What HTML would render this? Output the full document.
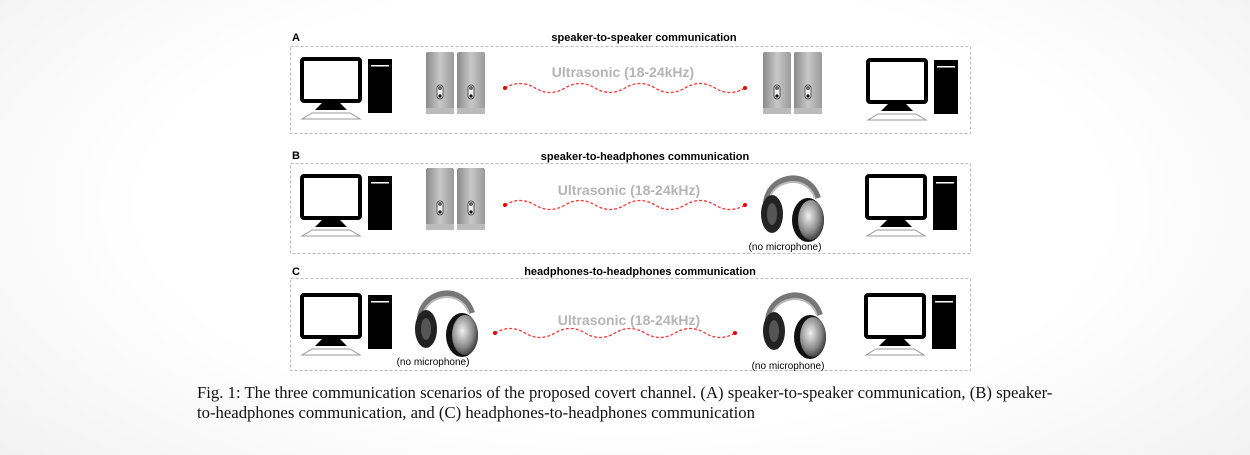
<!DOCTYPE html>
<html><head><meta charset="utf-8"><style>
html,body{margin:0;padding:0}
body{width:1250px;height:455px;overflow:hidden;background:radial-gradient(ellipse 70% 90% at 50% 45%,#ffffff 55%,#f0f0f0 100%);position:relative}
svg{position:absolute;left:0;top:0}
.cap{position:absolute;left:197px;top:383px;font-family:"Liberation Serif",serif;font-size:16.7px;color:#111;line-height:20px;white-space:nowrap}
</style></head><body>
<svg width="1250" height="455" xmlns="http://www.w3.org/2000/svg">
<defs>
<linearGradient id="spk" x1="0" x2="1"><stop offset="0" stop-color="#8a8a8a"/><stop offset="0.5" stop-color="#c8c8c8"/><stop offset="1" stop-color="#9a9a9a"/></linearGradient>
<radialGradient id="cup" cx="0.4" cy="0.4" r="0.7"><stop offset="0" stop-color="#f0f0f0"/><stop offset="0.6" stop-color="#888"/><stop offset="1" stop-color="#222"/></radialGradient>
<g id="pc">
<rect x="2" y="2" width="58" height="42" fill="#fff" stroke="#000" stroke-width="4" rx="2"/>
<polygon points="22,46 40,46 47,53 15,53" fill="#000"/>
<polygon points="12,56 50,56 60,62 2,62" fill="#fff" stroke="#999" stroke-width="1"/>
<rect x="68" y="2" width="24" height="54" fill="#000"/>
<rect x="71" y="8" width="18" height="1.5" fill="#fff"/>
</g>
<g id="spk1">
<rect x="0" y="0" width="28" height="62" rx="2" fill="url(#spk)"/>
<rect x="11" y="33" width="6" height="14" rx="3" fill="#eee" stroke="#555"/>
<circle cx="14" cy="36" r="2" fill="#666"/>
<circle cx="14" cy="44" r="1.6" fill="#111"/>
<rect x="0" y="56" width="28" height="6" fill="#bbb"/>
</g>
<g id="spk2"><use href="#spk1"/><use href="#spk1" x="31"/></g>
<g id="hp">
<path d="M8,40 C6,8 50,-2 60,30" fill="none" stroke="#777" stroke-width="6"/>
<path d="M10,38 C10,12 48,4 57,30" fill="none" stroke="#bbb" stroke-width="2"/>
<ellipse cx="14" cy="46" rx="11" ry="19" fill="#222"/>
<ellipse cx="14" cy="46" rx="5" ry="11" fill="#555"/>
<ellipse cx="50" cy="52" rx="16" ry="22" fill="#111"/>
<ellipse cx="53" cy="52" rx="13" ry="20" fill="url(#cup)"/>
</g>
<g id="wave">
<path d="M0,0 q15,-9 30,0 t30,0 t30,0 t30,0 t30,0 t30,0 t30,0 t30,0" fill="none" stroke="#f33" stroke-width="1.3" stroke-dasharray="3,2"/>
<circle cx="0" cy="0" r="2" fill="#e00"/><circle cx="240" cy="0" r="2" fill="#e00"/>
</g>
</defs>
<g fill="none" stroke="#bbb" stroke-width="1" stroke-dasharray="3,2">
<rect x="290.5" y="46.5" width="680" height="87"/>
<rect x="290.5" y="163.5" width="680" height="90"/>
<rect x="290.5" y="278.5" width="680" height="92"/>
</g>
<g font-family="Liberation Sans,sans-serif" font-weight="bold" font-size="11" fill="#000">
<text x="292" y="41">A</text><text x="644" y="41" text-anchor="middle">speaker-to-speaker communication</text>
<text x="292" y="159">B</text><text x="645" y="160" text-anchor="middle">speaker-to-headphones communication</text>
<text x="292" y="275">C</text><text x="640" y="275" text-anchor="middle">headphones-to-headphones communication</text>
</g>
<g font-family="Liberation Sans,sans-serif" font-weight="bold" font-size="14" fill="#b5b5b5" text-anchor="middle">
<text x="623" y="77">Ultrasonic (18-24kHz)</text>
<text x="629" y="195">Ultrasonic (18-24kHz)</text>
<text x="629" y="325">Ultrasonic (18-24kHz)</text>
</g>
<g font-family="Liberation Sans,sans-serif" font-size="10" fill="#000" text-anchor="middle">
<text x="785" y="250">(no microphone)</text>
<text x="433" y="365">(no microphone)</text>
<text x="788" y="369">(no microphone)</text>
</g>
<use href="#pc" x="300" y="57"/><use href="#spk2" x="426" y="52"/><use href="#wave" x="505" y="88"/><use href="#spk2" x="763" y="52"/><use href="#pc" x="866" y="58"/>
<use href="#pc" x="300" y="174"/><use href="#spk2" x="426" y="168"/><use href="#wave" x="505" y="205"/><use href="#hp" x="758" y="168"/><use href="#pc" x="865" y="174"/>
<use href="#pc" x="300" y="293"/><use href="#hp" x="412" y="283"/><use href="#wave" x="495" y="333"/><use href="#hp" x="760" y="285"/><use href="#pc" x="864" y="293"/>
</svg>
<div class="cap">Fig. 1: The three communication scenarios of the proposed covert channel. (A) speaker-to-speaker communication, (B) speaker-<br>to-headphones communication, and (C) headphones-to-headphones communication</div>
</body></html>
